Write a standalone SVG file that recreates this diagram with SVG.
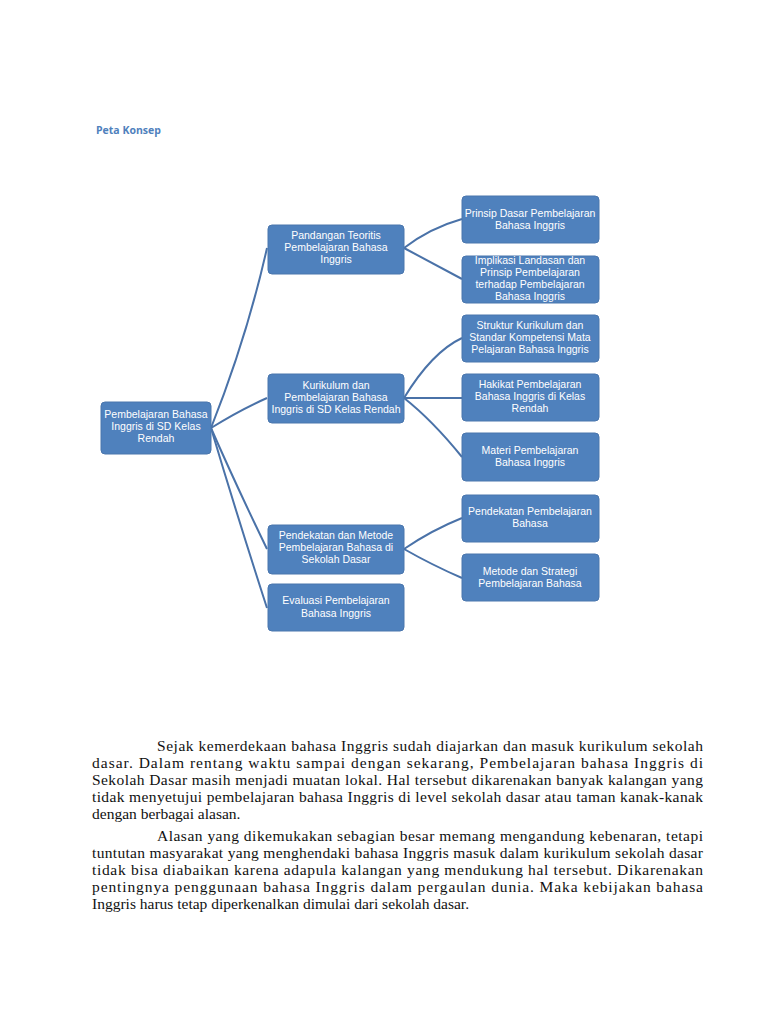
<svg xmlns="http://www.w3.org/2000/svg" width="768" height="1024" viewBox="0 0 768 1024">
<style>
.box{fill:#4f81bd;stroke:#4a76ad;stroke-width:1}
.bt{font-family:"Liberation Sans",Arial,sans-serif;font-size:10.5px;fill:#ffffff;text-anchor:middle}
.con{fill:none;stroke:#4a72a8;stroke-width:2}
.body{font-family:"Liberation Serif","Times New Roman",serif;font-size:15.5px;fill:#111111}
.title{font-family:"Open Sans","Liberation Sans",sans-serif;font-size:10.5px;font-weight:bold;fill:#4f81bd}
</style>
<rect width="768" height="1024" fill="#ffffff"/>
<text class="title" x="96" y="134">Peta Konsep</text>
<g id="connectors">
<path class="con" d="M211,428 Q247,337 267,248"/>
<path class="con" d="M211,428 Q240,410 267,398"/>
<path class="con" d="M211,428 Q236,485 267,549"/>
<path class="con" d="M211,428 Q236,512 267,608"/>
<path class="con" d="M404,248 Q430,228 462,219"/>
<path class="con" d="M404,248 Q430,262 462,279"/>
<path class="con" d="M404,398 Q432,352 462,338"/>
<path class="con" d="M404,398 L462,398"/>
<path class="con" d="M404,398 Q432,420 462,457"/>
<path class="con" d="M404,549 Q432,530 462,518"/>
<path class="con" d="M404,549 Q432,565 462,578"/>
</g>
<g id="root">
<rect class="box" x="101" y="402" width="110" height="52" rx="4"/>
<text class="bt" x="156" y="418">Pembelajaran Bahasa</text>
<text class="bt" x="156" y="430">Inggris di SD Kelas</text>
<text class="bt" x="156" y="442">Rendah</text>
</g>
<g id="n-pandangan">
<rect class="box" x="268" y="225" width="136" height="49" rx="4"/>
<text class="bt" x="336" y="239">Pandangan Teoritis</text>
<text class="bt" x="336" y="251">Pembelajaran Bahasa</text>
<text class="bt" x="336" y="263">Inggris</text>
</g>
<g id="n-kurikulum">
<rect class="box" x="268" y="374" width="136" height="49" rx="4"/>
<text class="bt" x="336" y="389">Kurikulum dan</text>
<text class="bt" x="336" y="401">Pembelajaran Bahasa</text>
<text class="bt" x="336" y="413">Inggris di SD Kelas Rendah</text>
</g>
<g id="n-pendekatan">
<rect class="box" x="268" y="525" width="136" height="49" rx="4"/>
<text class="bt" x="336" y="539">Pendekatan dan Metode</text>
<text class="bt" x="336" y="551">Pembelajaran Bahasa di</text>
<text class="bt" x="336" y="563">Sekolah Dasar</text>
</g>
<g id="n-evaluasi">
<rect class="box" x="268" y="584" width="136" height="47" rx="4"/>
<text class="bt" x="336" y="604">Evaluasi Pembelajaran</text>
<text class="bt" x="336" y="617">Bahasa Inggris</text>
</g>
<g id="n-prinsip">
<rect class="box" x="462" y="196" width="137" height="47" rx="4"/>
<text class="bt" x="530" y="217">Prinsip Dasar Pembelajaran</text>
<text class="bt" x="530" y="229">Bahasa Inggris</text>
</g>
<g id="n-implikasi">
<rect class="box" x="462" y="256" width="137" height="47" rx="4"/>
<text class="bt" x="530" y="264">Implikasi Landasan dan</text>
<text class="bt" x="530" y="276">Prinsip Pembelajaran</text>
<text class="bt" x="530" y="288">terhadap Pembelajaran</text>
<text class="bt" x="530" y="300">Bahasa Inggris</text>
</g>
<g id="n-struktur">
<rect class="box" x="462" y="315" width="137" height="47" rx="4"/>
<text class="bt" x="530" y="329">Struktur Kurikulum dan</text>
<text class="bt" x="530" y="341">Standar Kompetensi Mata</text>
<text class="bt" x="530" y="353">Pelajaran Bahasa Inggris</text>
</g>
<g id="n-hakikat">
<rect class="box" x="462" y="374" width="137" height="47" rx="4"/>
<text class="bt" x="530" y="388">Hakikat Pembelajaran</text>
<text class="bt" x="530" y="400">Bahasa Inggris di Kelas</text>
<text class="bt" x="530" y="412">Rendah</text>
</g>
<g id="n-materi">
<rect class="box" x="462" y="433" width="137" height="48" rx="4"/>
<text class="bt" x="530" y="454">Materi Pembelajaran</text>
<text class="bt" x="530" y="466">Bahasa Inggris</text>
</g>
<g id="n-pendekatan2">
<rect class="box" x="462" y="495" width="137" height="47" rx="4"/>
<text class="bt" x="530" y="515">Pendekatan Pembelajaran</text>
<text class="bt" x="530" y="527">Bahasa</text>
</g>
<g id="n-metode">
<rect class="box" x="462" y="554" width="137" height="47" rx="4"/>
<text class="bt" x="530" y="575">Metode dan Strategi</text>
<text class="bt" x="530" y="587">Pembelajaran Bahasa</text>
</g>
<g id="body-text">
<text class="body" x="157" y="751" textLength="546" lengthAdjust="spacing">Sejak kemerdekaan bahasa Inggris sudah diajarkan dan masuk kurikulum sekolah</text>
<text class="body" x="92" y="768" textLength="611" lengthAdjust="spacing">dasar. Dalam rentang waktu sampai dengan sekarang, Pembelajaran bahasa Inggris di</text>
<text class="body" x="92" y="785" textLength="611" lengthAdjust="spacing">Sekolah Dasar  masih menjadi muatan lokal. Hal tersebut dikarenakan banyak kalangan yang</text>
<text class="body" x="92" y="802" textLength="611" lengthAdjust="spacing">tidak menyetujui pembelajaran bahasa Inggris di level sekolah dasar atau taman kanak-kanak</text>
<text class="body" x="92" y="819">dengan berbagai alasan.</text>
<text class="body" x="157" y="841" textLength="546" lengthAdjust="spacing">Alasan yang dikemukakan sebagian besar memang mengandung kebenaran, tetapi</text>
<text class="body" x="92" y="858" textLength="611" lengthAdjust="spacing">tuntutan masyarakat yang menghendaki bahasa Inggris masuk dalam kurikulum sekolah dasar</text>
<text class="body" x="92" y="875" textLength="611" lengthAdjust="spacing">tidak bisa diabaikan karena adapula kalangan yang mendukung hal tersebut. Dikarenakan</text>
<text class="body" x="92" y="892" textLength="611" lengthAdjust="spacing">pentingnya penggunaan bahasa Inggris dalam pergaulan dunia. Maka kebijakan bahasa</text>
<text class="body" x="92" y="909">Inggris harus tetap diperkenalkan dimulai dari sekolah dasar.</text>
</g>
</svg>
